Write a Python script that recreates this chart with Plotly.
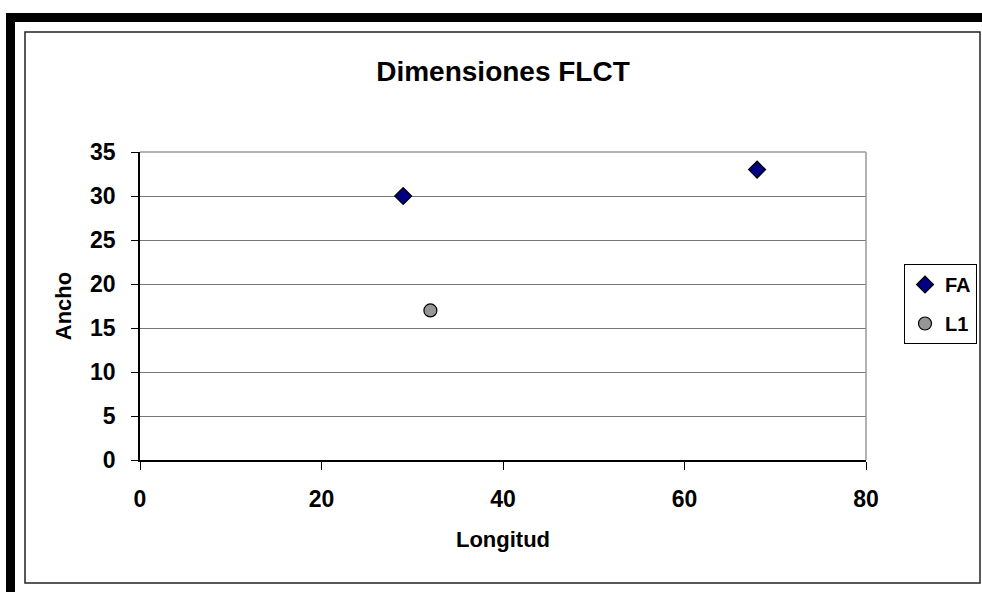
import plotly.graph_objects as go

# Data
fa_longitud = [29, 68]
fa_ancho = [30, 33]
l1_longitud = [32]
l1_ancho = [17]
x_ticks = [0, 20, 40, 60, 80]
y_ticks = [0, 5, 10, 15, 20, 25, 30, 35]

W, H = 982, 592
L, R, T, B = 140, 866, 152, 460
PW, PH = R - L, B - T

def px(x):
    return (x - L) / PW

def py(y):
    return (B - y) / PH

FONT = "Arial, Liberation Sans, sans-serif"

fig = go.Figure()
fig.add_trace(go.Scatter(
    x=fa_longitud, y=fa_ancho, mode="markers", name="<b>FA</b>", legendgroup="a",
    marker=dict(symbol="diamond", size=13, color="#000080", line=dict(color="black", width=1.2)),
))
fig.add_trace(go.Scatter(
    x=l1_longitud, y=l1_ancho, mode="markers", name="<b>L1</b>", legendgroup="b",
    marker=dict(symbol="circle", size=13, color="#969696", line=dict(color="black", width=1.2)),
))

shapes = [
    # thick black frame (top and left)
    dict(type="rect", xref="paper", yref="paper", x0=px(6), x1=px(990), y0=py(13), y1=py(22),
         fillcolor="black", line=dict(width=0), layer="above"),
    dict(type="rect", xref="paper", yref="paper", x0=px(6), x1=px(15), y0=py(13), y1=py(600),
         fillcolor="black", line=dict(width=0), layer="above"),
    # inner chart border
    dict(type="rect", xref="paper", yref="paper", x0=px(25), x1=px(980), y0=py(32), y1=py(583),
         line=dict(color="#222", width=1.5), layer="below"),
    # plot area top/right border
    dict(type="line", xref="paper", yref="paper", x0=0, x1=1, y0=1, y1=1,
         line=dict(color="#999", width=1.5)),
    dict(type="line", xref="paper", yref="paper", x0=1, x1=1, y0=0, y1=1,
         line=dict(color="#999", width=1.5)),
]

fig.update_layout(
    width=W, height=H, autosize=False,
    margin=dict(l=L, r=W - R, t=T, b=H - B, pad=0, autoexpand=False),
    paper_bgcolor="white", plot_bgcolor="white",
    font=dict(family=FONT, color="black"),
    title=dict(text="<b>Dimensiones FLCT</b>", font=dict(size=28, family=FONT),
               x=(L + R) / 2 / W, xanchor="center", xref="container",
               y=1 - 71 / H, yanchor="middle", yref="container"),
    showlegend=True,
    legend=dict(x=px(904), y=py(264), xanchor="left", yanchor="top",
                bordercolor="black", borderwidth=1, bgcolor="white",
                font=dict(size=20, family=FONT), tracegroupgap=10,
                itemwidth=30),
    shapes=shapes,
)

fig.update_xaxes(
    range=[0, 80], tickvals=x_ticks, ticktext=[f"<b>{v}</b>" for v in x_ticks],
    showgrid=False, zeroline=False,
    showline=True, linecolor="black", linewidth=1.5,
    ticks="outside", ticklen=8, tickcolor="black", tickwidth=1,
    tickfont=dict(size=23, family=FONT), ticklabelstandoff=10,
    title=dict(text="<b>Longitud</b>", font=dict(size=22, family=FONT), standoff=20),
    automargin=False,
)
fig.update_yaxes(
    range=[0, 35], tickvals=y_ticks, ticktext=[f"<b>{v}</b>" for v in y_ticks],
    showgrid=True, gridcolor="#777", gridwidth=1, zeroline=False,
    showline=True, linecolor="black", linewidth=1.5,
    ticks="outside", ticklen=7, tickcolor="black", tickwidth=1,
    tickfont=dict(size=23, family=FONT), ticklabelstandoff=11,
    title=dict(text="<b>Ancho</b>", font=dict(size=22, family=FONT), standoff=12),
    automargin=False,
)

fig.write_html(
    "out.html",
    config={"displayModeBar": False, "responsive": False},
    post_script="document.body.style.margin='0';document.body.style.overflow='hidden';",
)
